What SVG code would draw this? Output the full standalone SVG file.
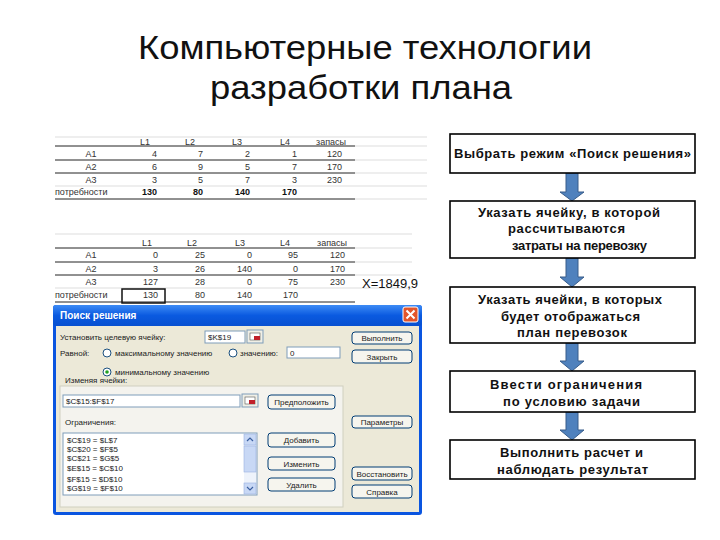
<svg xmlns="http://www.w3.org/2000/svg" width="720" height="540" viewBox="0 0 720 540">
<style>
.title{font-family:"Liberation Sans",Arial,sans-serif;font-size:34px;fill:#111}
.box{fill:#fff;stroke:#000;stroke-width:1.6}
.bt{font-family:"Liberation Sans",Arial,sans-serif;font-size:13px;font-weight:bold;fill:#111;text-anchor:middle}
.arr{fill:#4F81BD;stroke:#385D8A;stroke-width:1}
.tt{font-family:"Liberation Sans",Arial,sans-serif;font-size:9px;fill:#333}
.tc{text-anchor:middle}
.tr{text-anchor:end}
.tb{font-weight:bold;fill:#111}
.dl{stroke:#222;stroke-width:1}
.ll{stroke:#ddd;stroke-width:1}
.dt{font-family:"Liberation Sans",Tahoma,sans-serif;font-size:8px;fill:#222}
.inp{fill:#fff;stroke:#7F9DB9;stroke-width:1}
.btn{fill:#F6F5EE;stroke:#003C74;stroke-width:1}
.bl{font-family:"Liberation Sans",Tahoma,sans-serif;font-size:8px;fill:#222;text-anchor:middle}
.rad{fill:#fff;stroke:#1C5180;stroke-width:1}
</style>
<defs>
<linearGradient id="tb" x1="0" y1="0" x2="0" y2="1">
<stop offset="0" stop-color="#3D8BF5"/>
<stop offset="0.5" stop-color="#0A5AE0"/>
<stop offset="1" stop-color="#0850D0"/>
</linearGradient>
</defs>
<rect width="720" height="540" fill="#fff"/>

<g id="title">
<text class="title" x="365" y="59" text-anchor="middle" textLength="454" lengthAdjust="spacingAndGlyphs">Компьютерные технологии</text>
<text class="title" x="361" y="99" text-anchor="middle" textLength="302" lengthAdjust="spacingAndGlyphs">разработки плана</text>
</g>

<g id="table1">
<line class="ll" x1="55" y1="137" x2="427" y2="137"/>
<line class="dl" x1="55" y1="146" x2="355" y2="146"/><line class="ll" x1="355" y1="146" x2="427" y2="146"/>
<line class="dl" x1="55" y1="160" x2="355" y2="160"/><line class="ll" x1="355" y1="160" x2="427" y2="160"/>
<line class="dl" x1="55" y1="173" x2="355" y2="173"/><line class="ll" x1="355" y1="173" x2="427" y2="173"/>
<line class="ll" x1="55" y1="186" x2="427" y2="186"/>
<line class="dl" x1="55" y1="199" x2="355" y2="199"/><line class="ll" x1="355" y1="199" x2="427" y2="199"/>
<text class="tt tc" x="145" y="145">L1</text><text class="tt tc" x="190" y="145">L2</text><text class="tt tc" x="237" y="145">L3</text><text class="tt tc" x="285" y="145">L4</text><text class="tt tc" x="331" y="145">запасы</text>
<text class="tt tc" x="91" y="157">A1</text><text class="tt tr" x="157" y="157">4</text><text class="tt tr" x="203" y="157">7</text><text class="tt tr" x="250" y="157">2</text><text class="tt tr" x="297" y="157">1</text><text class="tt tr" x="342" y="157">120</text>
<text class="tt tc" x="91" y="170">A2</text><text class="tt tr" x="157" y="170">6</text><text class="tt tr" x="203" y="170">9</text><text class="tt tr" x="250" y="170">5</text><text class="tt tr" x="297" y="170">7</text><text class="tt tr" x="342" y="170">170</text>
<text class="tt tc" x="91" y="183">A3</text><text class="tt tr" x="157" y="183">3</text><text class="tt tr" x="203" y="183">5</text><text class="tt tr" x="250" y="183">7</text><text class="tt tr" x="297" y="183">3</text><text class="tt tr" x="342" y="183">230</text>
<text class="tt" x="55" y="195">потребности</text><text class="tt tr tb" x="157" y="195">130</text><text class="tt tr tb" x="203" y="195">80</text><text class="tt tr tb" x="250" y="195">140</text><text class="tt tr tb" x="297" y="195">170</text>
</g>

<g id="table2">
<line class="ll" x1="55" y1="234" x2="412" y2="234"/>
<line class="dl" x1="55" y1="248" x2="355" y2="248"/><line class="ll" x1="355" y1="248" x2="412" y2="248"/>
<line class="dl" x1="55" y1="262" x2="355" y2="262"/><line class="ll" x1="355" y1="262" x2="412" y2="262"/>
<line class="dl" x1="55" y1="275" x2="355" y2="275"/><line class="ll" x1="355" y1="275" x2="412" y2="275"/>
<line class="ll" x1="55" y1="288" x2="412" y2="288"/>
<line class="dl" x1="55" y1="302" x2="355" y2="302"/>
<rect x="122" y="289" width="43" height="14" fill="none" stroke="#111" stroke-width="1.5"/>
<text class="tt tc" x="147" y="246">L1</text><text class="tt tc" x="192" y="246">L2</text><text class="tt tc" x="240" y="246">L3</text><text class="tt tc" x="285" y="246">L4</text><text class="tt tc" x="332" y="246">запасы</text>
<text class="tt tc" x="91" y="258">A1</text><text class="tt tr" x="158" y="258">0</text><text class="tt tr" x="205" y="258">25</text><text class="tt tr" x="252" y="258">0</text><text class="tt tr" x="298" y="258">95</text><text class="tt tr" x="345" y="258">120</text>
<text class="tt tc" x="91" y="272">A2</text><text class="tt tr" x="158" y="272">3</text><text class="tt tr" x="205" y="272">26</text><text class="tt tr" x="252" y="272">140</text><text class="tt tr" x="298" y="272">0</text><text class="tt tr" x="345" y="272">170</text>
<text class="tt tc" x="91" y="285">A3</text><text class="tt tr" x="158" y="285">127</text><text class="tt tr" x="205" y="285">28</text><text class="tt tr" x="252" y="285">0</text><text class="tt tr" x="298" y="285">75</text><text class="tt tr" x="345" y="285">230</text>
<text class="tt" x="55" y="298">потребности</text><text class="tt tr" x="158" y="298">130</text><text class="tt tr" x="205" y="298">80</text><text class="tt tr" x="252" y="298">140</text><text class="tt tr" x="298" y="298">170</text>
<text x="362" y="288" font-family="Liberation Sans,Arial,sans-serif" font-size="13" fill="#111">X=1849,9</text>
</g>

<g id="dialog">
<rect x="53" y="305" width="369" height="210" rx="3" fill="#0A55E0"/>
<rect x="53" y="305" width="369" height="21" rx="3" fill="url(#tb)"/>
<rect x="56" y="326" width="363" height="186" fill="#ECE9D8"/>
<text x="60" y="319" font-family="Liberation Sans,Tahoma,sans-serif" font-size="10" font-weight="bold" fill="#fff">Поиск решения</text>
<rect x="403" y="307" width="15" height="15" rx="2" fill="#E2552B" stroke="#fff" stroke-width="1"/>
<path d="M406.5 310.5 L414.5 318.5 M414.5 310.5 L406.5 318.5" stroke="#fff" stroke-width="2"/>

<text class="dt" x="60" y="340">Установить целевую ячейку:</text>
<rect class="inp" x="205" y="331" width="40" height="12"/>
<text class="dt" x="208" y="340">$K$19</text>
<rect x="247" y="330" width="16" height="13" fill="#F0EFE6" stroke="#7F9DB9"/>
<rect x="250" y="333" width="10" height="7" fill="#fff" stroke="#555" stroke-width="0.6"/><rect x="254" y="336" width="6" height="4" fill="#C0202A"/>

<text class="dt" x="60" y="356">Равной:</text>
<circle class="rad" cx="107" cy="353" r="4"/>
<text class="dt" x="115" y="356">максимальному значению</text>
<circle class="rad" cx="233" cy="353" r="4"/>
<text class="dt" x="240" y="356">значению:</text>
<rect class="inp" x="287" y="347" width="53" height="11"/>
<text class="dt" x="290" y="356">0</text>
<circle class="rad" cx="107" cy="372" r="4"/><circle cx="107" cy="372" r="1.8" fill="#21A121"/>
<text class="dt" x="115" y="375">минимальному значению</text>

<rect x="60" y="386" width="283" height="121" fill="#F4F3EE" stroke="#D0D0BF"/>
<text class="dt" x="65" y="383" fill="#1E4FA8">Изменяя ячейки:</text>
<rect class="inp" x="63" y="395" width="177" height="12"/>
<text class="dt" x="66" y="404">$C$15:$F$17</text>
<rect x="242" y="394" width="16" height="13" fill="#F0EFE6" stroke="#7F9DB9"/>
<rect x="245" y="397" width="10" height="7" fill="#fff" stroke="#555" stroke-width="0.6"/><rect x="249" y="400" width="6" height="4" fill="#C0202A"/>
<rect class="btn" x="268" y="395" width="67" height="14" rx="3"/><text class="bl" x="301.5" y="405">Предположить</text>
<text class="dt" x="65" y="425" fill="#1E4FA8">Ограничения:</text>

<rect class="inp" x="63" y="433" width="194" height="62"/>
<rect x="244" y="434" width="12" height="60" fill="#EEF3FB"/>
<rect x="244" y="434" width="12" height="11" fill="#C8D8F5" stroke="#9AB3E0" stroke-width="0.6"/>
<rect x="244" y="483" width="12" height="11" fill="#C8D8F5" stroke="#9AB3E0" stroke-width="0.6"/>
<rect x="244" y="446" width="12" height="26" fill="#C8D8F5" stroke="#9AB3E0" stroke-width="0.6"/>
<path d="M247 441 L250 438 L253 441 M247 487 L250 490 L253 487" fill="none" stroke="#3A5FA0" stroke-width="1.2"/>
<text class="dt" x="67" y="443">$C$19 = $L$7</text>
<text class="dt" x="67" y="452">$C$20 = $F$5</text>
<text class="dt" x="67" y="461">$C$21 = $G$5</text>
<text class="dt" x="67" y="471">$E$15 = $C$10</text>
<text class="dt" x="67" y="482">$F$15 = $D$10</text>
<text class="dt" x="67" y="491">$G$19 = $F$10</text>
<rect class="btn" x="268" y="433" width="67" height="14" rx="3"/><text class="bl" x="301.5" y="443">Добавить</text>
<rect class="btn" x="268" y="457" width="67" height="13" rx="3"/><text class="bl" x="301.5" y="466.5">Изменить</text>
<rect class="btn" x="268" y="478" width="67" height="13" rx="3"/><text class="bl" x="301.5" y="487.5">Удалить</text>

<rect class="btn" x="352" y="332" width="60" height="12" rx="3"/><text class="bl" x="382" y="341">Выполнить</text>
<rect class="btn" x="352" y="350" width="60" height="13" rx="3"/><text class="bl" x="382" y="359.5">Закрыть</text>
<rect class="btn" x="352" y="416" width="60" height="12" rx="3"/><text class="bl" x="382" y="425">Параметры</text>
<rect class="btn" x="352" y="467" width="60" height="13" rx="3"/><text class="bl" x="382" y="476.5">Восстановить</text>
<rect class="btn" x="352" y="485" width="60" height="13" rx="3"/><text class="bl" x="382" y="494.5">Справка</text>
</g>

<g id="connectors">
<path class="arr" d="M566 173 H578 V192 H584 L572 201 L560 192 H566 Z"/>
<path class="arr" d="M566 258 H578 V277 H584 L572 287 L560 277 H566 Z"/>
<path class="arr" d="M566 343 H578 V361 H584 L572 371 L560 361 H566 Z"/>
<path class="arr" d="M566 412 H578 V430 H584 L572 440 L560 430 H566 Z"/>
</g>

<g id="step1">
<rect class="box" x="450" y="134" width="245" height="39"/>
<text class="bt" x="572.5" y="158" textLength="237">Выбрать режим «Поиск решения»</text>
</g>
<g id="step2">
<rect class="box" x="450" y="201" width="245" height="57"/>
<text class="bt" x="569" y="217" textLength="182">Указать ячейку, в которой</text>
<text class="bt" x="566.5" y="233" textLength="117">рассчитываются</text>
<text class="bt" x="579.5" y="250" textLength="135">затраты на перевозку</text>
</g>
<g id="step3">
<rect class="box" x="450" y="287" width="245" height="56"/>
<text class="bt" x="570" y="304" textLength="184">Указать ячейки, в которых</text>
<text class="bt" x="570.5" y="321" textLength="139">будет отображаться</text>
<text class="bt" x="572" y="337" textLength="110">план перевозок</text>
</g>
<g id="step4">
<rect class="box" x="450" y="371" width="245" height="41"/>
<text class="bt" x="566" y="389" textLength="152">Ввести ограничения</text>
<text class="bt" x="571.5" y="406" textLength="137">по условию задачи</text>
</g>
<g id="step5">
<rect class="box" x="450" y="440" width="245" height="39"/>
<text class="bt" x="571.5" y="457" textLength="143">Выполнить расчет и</text>
<text class="bt" x="572.5" y="474" textLength="151">наблюдать результат</text>
</g>
</svg>
